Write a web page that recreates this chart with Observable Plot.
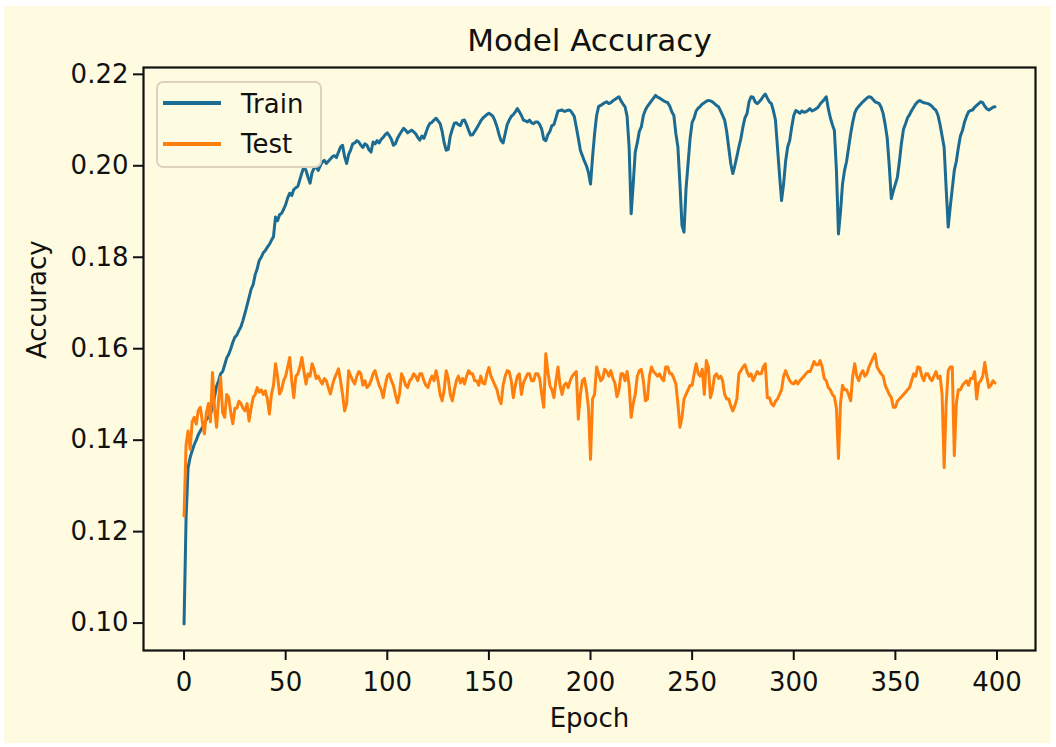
<!DOCTYPE html>
<html>
<head>
<meta charset="utf-8">
<script src="https://cdn.jsdelivr.net/npm/d3@7"></script>
<script src="https://cdn.jsdelivr.net/npm/@observablehq/plot@0.6"></script>
<style>
  html, body { margin: 0; padding: 0; background: #ffffff; }
  #page { position: relative; width: 1056px; height: 747px; overflow: hidden; font-family: "DejaVu Sans", sans-serif; color: #111; }
  #bg { position: absolute; left: 4px; top: 6px; width: 1047px; height: 737px; background: #fefbe0; }
  #chart { position: absolute; left: 0; top: 0; }
  .legend-box { position: absolute; left: 156px; top: 81px; width: 166px; height: 87px; box-sizing: border-box;
                border: 2px solid #ddd3bc; border-radius: 7px; background: #fefbe3; }
  .swatch { position: absolute; left: 163px; width: 58px; height: 4px; }
  .legend-text { position: absolute; left: 241px; font-size: 26px; line-height: 30px; white-space: nowrap; }
</style>
</head>
<body>
<div id="page">
  <div id="bg"></div>
  <div id="chart"></div>
</div>
<script>
// Accuracy at each of the 400 training epochs
const epochs = d3.range(0, 400);

const trainAcc = [
  0.0998,0.1230,0.1340,0.1362,0.1377,0.1390,0.1400,0.1412,0.1420,0.1428,
  0.1436,0.1445,0.1450,0.1458,0.1470,0.1495,0.1518,0.1530,0.1545,0.1550,
  0.1565,0.1580,0.1588,0.1600,0.1614,0.1625,0.1630,0.1640,0.1648,0.1662,
  0.1678,0.1695,0.1712,0.1730,0.1740,0.1762,0.1775,0.1793,0.1800,0.1810,
  0.1815,0.1822,0.1828,0.1837,0.1845,0.1888,0.1880,0.1893,0.1896,0.1905,
  0.1915,0.1930,0.1940,0.1935,0.1948,0.1952,0.1955,0.1970,0.1985,0.1998,
  0.1990,0.1975,0.1962,0.1985,0.1995,0.1998,0.1990,0.2000,0.2008,0.2012,
  0.2005,0.2010,0.2015,0.2020,0.2022,0.2018,0.2030,0.2041,0.2045,0.2020,
  0.2005,0.2025,0.2035,0.2048,0.2050,0.2055,0.2052,0.2045,0.2040,0.2048,
  0.2045,0.2035,0.2030,0.2052,0.2048,0.2055,0.2050,0.2058,0.2062,0.2068,
  0.2072,0.2066,0.2058,0.2045,0.2048,0.2060,0.2068,0.2075,0.2082,0.2078,
  0.2072,0.2075,0.2078,0.2074,0.2070,0.2062,0.2056,0.2065,0.2060,0.2072,
  0.2085,0.2093,0.2095,0.2100,0.2104,0.2098,0.2092,0.2075,0.2050,0.2034,
  0.2036,0.2065,0.2080,0.2093,0.2094,0.2090,0.2088,0.2099,0.2100,0.2090,
  0.2078,0.2067,0.2068,0.2075,0.2082,0.2090,0.2098,0.2104,0.2108,0.2112,
  0.2115,0.2112,0.2108,0.2098,0.2085,0.2068,0.2055,0.2050,0.2070,0.2090,
  0.2100,0.2108,0.2112,0.2118,0.2125,0.2118,0.2110,0.2100,0.2098,0.2096,
  0.2100,0.2094,0.2092,0.2096,0.2096,0.2090,0.2080,0.2058,0.2055,0.2068,
  0.2075,0.2088,0.2090,0.2105,0.2120,0.2121,0.2122,0.2119,0.2120,0.2122,
  0.2121,0.2115,0.2108,0.2085,0.2060,0.2034,0.2022,0.2010,0.2000,0.1985,
  0.1960,0.2019,0.2070,0.2110,0.2130,0.2132,0.2135,0.2138,0.2140,0.2136,
  0.2138,0.2142,0.2145,0.2148,0.2151,0.2142,0.2135,0.2129,0.2108,0.2040,
  0.1895,0.1960,0.2030,0.2050,0.2075,0.2085,0.2110,0.2122,0.2130,0.2136,
  0.2142,0.2148,0.2154,0.2150,0.2148,0.2145,0.2142,0.2140,0.2138,0.2130,
  0.2118,0.2110,0.2070,0.2041,0.1960,0.1870,0.1855,0.1950,0.2005,0.2060,
  0.2095,0.2105,0.2120,0.2126,0.2130,0.2135,0.2138,0.2141,0.2143,0.2142,
  0.2140,0.2136,0.2132,0.2129,0.2120,0.2110,0.2100,0.2075,0.2040,0.2005,
  0.1983,0.2000,0.2020,0.2041,0.2060,0.2085,0.2105,0.2114,0.2140,0.2151,
  0.2150,0.2140,0.2136,0.2140,0.2145,0.2152,0.2157,0.2148,0.2140,0.2136,
  0.2120,0.2100,0.2040,0.1980,0.1924,0.1960,0.2010,0.2041,0.2055,0.2085,
  0.2110,0.2121,0.2118,0.2115,0.2120,0.2117,0.2118,0.2121,0.2125,0.2120,
  0.2122,0.2125,0.2128,0.2135,0.2140,0.2145,0.2151,0.2125,0.2105,0.2090,
  0.2077,0.1990,0.1851,0.1900,0.1960,0.1990,0.2010,0.2040,0.2070,0.2095,
  0.2115,0.2125,0.2130,0.2135,0.2140,0.2144,0.2148,0.2151,0.2150,0.2145,
  0.2140,0.2138,0.2136,0.2128,0.2114,0.2090,0.2060,0.2000,0.1928,0.1945,
  0.1960,0.1975,0.2010,0.2050,0.2080,0.2092,0.2105,0.2112,0.2121,0.2128,
  0.2135,0.2140,0.2143,0.2140,0.2138,0.2137,0.2136,0.2134,0.2130,0.2125,
  0.2121,0.2110,0.2090,0.2065,0.2040,0.1950,0.1866,0.1910,0.1950,0.1990,
  0.2010,0.2040,0.2065,0.2077,0.2095,0.2108,0.2118,0.2121,0.2122,0.2128,
  0.2132,0.2136,0.2140,0.2138,0.2130,0.2125,0.2122,0.2125,0.2128,0.2129
];

const testAcc = [
  0.1234,0.1390,0.1420,0.1380,0.1440,0.1450,0.1435,0.1465,0.1472,0.1440,
  0.1414,0.1460,0.1480,0.1440,0.1548,0.1470,0.1428,0.1490,0.1537,0.1460,
  0.1450,0.1500,0.1493,0.1460,0.1436,0.1470,0.1470,0.1485,0.1480,0.1470,
  0.1464,0.1480,0.1442,0.1470,0.1493,0.1500,0.1515,0.1505,0.1510,0.1500,
  0.1508,0.1490,0.1457,0.1500,0.1520,0.1567,0.1540,0.1501,0.1510,0.1530,
  0.1540,0.1560,0.1581,0.1530,0.1493,0.1540,0.1545,0.1560,0.1581,0.1550,
  0.1523,0.1545,0.1540,0.1567,0.1555,0.1535,0.1540,0.1530,0.1523,0.1535,
  0.1530,0.1515,0.1501,0.1520,0.1535,0.1545,0.1556,0.1530,0.1500,0.1464,
  0.1480,0.1552,0.1540,0.1530,0.1523,0.1540,0.1550,0.1545,0.1520,0.1530,
  0.1515,0.1520,0.1530,0.1545,0.1552,0.1535,0.1520,0.1510,0.1493,0.1520,
  0.1540,0.1545,0.1530,0.1520,0.1500,0.1482,0.1500,0.1545,0.1535,0.1520,
  0.1515,0.1530,0.1535,0.1545,0.1540,0.1530,0.1545,0.1545,0.1530,0.1520,
  0.1515,0.1530,0.1540,0.1530,0.1552,0.1530,0.1500,0.1486,0.1510,0.1552,
  0.1535,0.1500,0.1486,0.1510,0.1530,0.1540,0.1525,0.1535,0.1523,0.1540,
  0.1552,0.1545,0.1545,0.1530,0.1530,0.1520,0.1540,0.1525,0.1523,0.1545,
  0.1559,0.1540,0.1530,0.1520,0.1510,0.1490,0.1480,0.1520,0.1540,0.1552,
  0.1550,0.1530,0.1493,0.1520,0.1540,0.1545,0.1500,0.1525,0.1535,0.1545,
  0.1545,0.1530,0.1530,0.1545,0.1545,0.1535,0.1500,0.1472,0.1589,0.1550,
  0.1520,0.1510,0.1493,0.1530,0.1560,0.1520,0.1500,0.1520,0.1525,0.1515,
  0.1530,0.1540,0.1545,0.1550,0.1446,0.1500,0.1530,0.1535,0.1510,0.1470,
  0.1358,0.1490,0.1500,0.1560,0.1545,0.1530,0.1535,0.1555,0.1550,0.1540,
  0.1552,0.1535,0.1525,0.1495,0.1510,0.1545,0.1545,0.1530,0.1550,0.1520,
  0.1450,0.1480,0.1500,0.1540,0.1552,0.1555,0.1530,0.1486,0.1490,0.1540,
  0.1560,0.1550,0.1545,0.1540,0.1545,0.1535,0.1530,0.1560,0.1560,0.1545,
  0.1545,0.1535,0.1523,0.1480,0.1428,0.1450,0.1490,0.1500,0.1510,0.1520,
  0.1520,0.1545,0.1567,0.1545,0.1540,0.1555,0.1500,0.1574,0.1560,0.1493,
  0.1510,0.1540,0.1545,0.1535,0.1540,0.1530,0.1500,0.1490,0.1490,0.1475,
  0.1464,0.1475,0.1490,0.1545,0.1552,0.1560,0.1565,0.1550,0.1540,0.1545,
  0.1530,0.1540,0.1550,0.1545,0.1545,0.1560,0.1567,0.1493,0.1493,0.1480,
  0.1475,0.1485,0.1490,0.1500,0.1510,0.1540,0.1552,0.1540,0.1530,0.1525,
  0.1523,0.1530,0.1523,0.1530,0.1535,0.1540,0.1545,0.1550,0.1550,0.1560,
  0.1572,0.1565,0.1565,0.1574,0.1560,0.1535,0.1530,0.1515,0.1510,0.1500,
  0.1495,0.1470,0.1360,0.1480,0.1520,0.1510,0.1510,0.1500,0.1486,0.1540,
  0.1567,0.1540,0.1530,0.1545,0.1552,0.1540,0.1545,0.1560,0.1570,0.1580,
  0.1589,0.1560,0.1552,0.1545,0.1540,0.1520,0.1510,0.1500,0.1493,0.1472,
  0.1472,0.1485,0.1490,0.1495,0.1500,0.1505,0.1510,0.1515,0.1530,0.1545,
  0.1540,0.1560,0.1559,0.1540,0.1530,0.1545,0.1545,0.1535,0.1530,0.1540,
  0.1550,0.1535,0.1540,0.1500,0.1340,0.1480,0.1552,0.1560,0.1560,0.1366,
  0.1480,0.1510,0.1510,0.1520,0.1525,0.1530,0.1520,0.1535,0.1535,0.1550,
  0.1490,0.1525,0.1530,0.1540,0.1570,0.1540,0.1515,0.1520,0.1530,0.1525
];

const seriesNames = ["Train", "Test"];
const seriesColors = ["#1b6b93", "#ff7f0e"];
const xTicks = [0, 50, 100, 150, 200, 250, 300, 350, 400];
const yTicks = [0.10, 0.12, 0.14, 0.16, 0.18, 0.20, 0.22];
const titleText = "Model Accuracy";
const xLabel = "Epoch";
const yLabel = "Accuracy";

const rows = [
  ...epochs.map((e, i) => ({epoch: e, acc: trainAcc[i], series: seriesNames[0]})),
  ...epochs.map((e, i) => ({epoch: e, acc: testAcc[i], series: seriesNames[1]}))
];

// x and y domains carry a 5% margin around the data extent
const xExt = d3.extent(epochs);
const xPad = (xExt[1] - xExt[0]) * 0.05;
const yExt = d3.extent(trainAcc.concat(testAcc));
const yPad = (yExt[1] - yExt[0]) * 0.05;

const chart = Plot.plot({
  width: 1056,
  height: 747,
  marginLeft: 143,
  marginRight: 21,
  marginTop: 67,
  marginBottom: 97,
  style: {background: "transparent", fontFamily: "DejaVu Sans, sans-serif", fontSize: "26px", color: "#111", overflow: "visible"},
  x: {domain: [xExt[0] - xPad, xExt[1] + xPad]},
  y: {domain: [yExt[0] - yPad, yExt[1] + yPad]},
  color: {domain: seriesNames, range: seriesColors},
  marks: [
    Plot.line(rows, {x: "epoch", y: "acc", z: "series", stroke: "series", strokeWidth: 3, strokeLinejoin: "round"}),
    Plot.frame({stroke: "#111", strokeWidth: 2.2}),
    Plot.axisX({ticks: xTicks, tickSize: 10, tickPadding: 12, strokeWidth: 2, label: null, tickFormat: d => String(d)}),
    Plot.axisY({ticks: yTicks, tickSize: 10, tickPadding: 5, strokeWidth: 2, label: null, tickFormat: d3.format(".2f")}),
    Plot.text([titleText], {frameAnchor: "top", lineAnchor: "middle", dy: -26, fontSize: 31, fill: "#111"}),
    Plot.text([xLabel], {frameAnchor: "bottom", lineAnchor: "middle", dy: 68, fontSize: 26, fill: "#111"}),
    Plot.text([yLabel], {frameAnchor: "left", lineAnchor: "middle", dx: -106, rotate: -90, fontSize: 26, fill: "#111"})
  ]
});
document.getElementById("chart").appendChild(chart);

// Legend in the upper-left corner of the axes
const page = document.getElementById("page");
const box = document.createElement("div");
box.className = "legend-box";
page.appendChild(box);
seriesNames.forEach((name, i) => {
  const sw = document.createElement("div");
  sw.className = "swatch";
  sw.style.top = (101 + i * 41) + "px";
  sw.style.background = seriesColors[i];
  page.appendChild(sw);
  const tx = document.createElement("div");
  tx.className = "legend-text";
  tx.style.top = (89 + i * 40) + "px";
  tx.textContent = name;
  page.appendChild(tx);
});
</script>
</body>
</html>
